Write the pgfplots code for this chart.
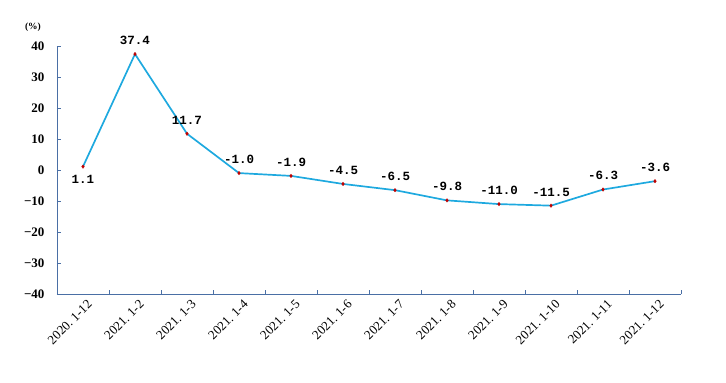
\documentclass[border=0pt]{standalone}
\usepackage{fontspec}
\setmainfont{Liberation Serif}
\newfontfamily\monofont{Liberation Mono}
\usepackage{pgfplots}
\usepackage{pgfplotstable}
\pgfplotsset{compat=1.18}
\definecolor{linec}{HTML}{1EA9DF}
\definecolor{markc}{HTML}{C00000}
\definecolor{axc}{HTML}{4A6FA5}
\pgfplotstableread{
x y
0 1.1
1 37.4
2 11.7
3 -1.0
4 -1.9
5 -4.5
6 -6.5
7 -9.8
8 -11.0
9 -11.5
10 -6.3
11 -3.6
}\datatab
\begin{document}
\begin{tikzpicture}
\useasboundingbox (-57bp,-89bp) rectangle (669bp,294bp);
\begin{axis}[
  scale only axis, width=624bp, height=248bp,
  xmin=-0.5, xmax=11.5, ymin=-40, ymax=40,
  ytick={-40,-30,...,40},
  yticklabels={−40,−30,−20,−10,0,10,20,30,40},
  axis x line*=bottom, axis y line*=left,
  axis line style={draw=axc, line width=0.8pt},
  tick style={draw=axc, line width=0.8pt},
  tick align=inside, major tick length=4bp,
  xtick={-0.5,0.5,...,11.5}, xticklabels={},
  extra x ticks={0,1,...,11},
  extra x tick labels={2020.\ 1-12,2021.\ 1-2,2021.\ 1-3,2021.\ 1-4,2021.\ 1-5,2021.\ 1-6,2021.\ 1-7,2021.\ 1-8,2021.\ 1-9,2021.\ 1-10,2021.\ 1-11,2021.\ 1-12},
  extra x tick style={major tick length=0pt, tick label style={rotate=45, anchor=north east, font=\fontsize{13bp}{15bp}\selectfont, inner sep=1bp, yshift=-5bp}},
  yticklabel style={font=\fontsize{13bp}{15bp}\selectfont\bfseries, xshift=-9bp},
  /pgf/number format/assume math mode=true,
  clip=false,
]
\addplot[color=linec, line width=1.7pt, mark=diamond*, mark size=1.8bp,
  mark options={fill=markc, draw=markc, line width=0.3pt}] table {\datatab};
\addplot[draw=none, no marks, x filter/.expression={x==0 ? nan : x},
  nodes near coords={\pgfmathprintnumber[fixed,fixed zerofill,precision=1]{\pgfplotspointmeta}},
  every node near coord/.append style={text=black, font=\fontsize{12.5bp}{14bp}\selectfont\monofont\bfseries, anchor=south, yshift=6bp}] table {\datatab};
\addplot[draw=none, no marks, x filter/.expression={x==0 ? x : nan},
  nodes near coords={\pgfmathprintnumber[fixed,fixed zerofill,precision=1]{\pgfplotspointmeta}},
  every node near coord/.append style={text=black, font=\fontsize{12.5bp}{14bp}\selectfont\monofont\bfseries, anchor=north, yshift=-5bp}] table {\datatab};
\node[font=\fontsize{9.5bp}{11bp}\selectfont\bfseries] at (rel axis cs:0,1) [xshift=-24bp, yshift=19bp] {(\%)};
\end{axis}
\end{tikzpicture}
\end{document}
